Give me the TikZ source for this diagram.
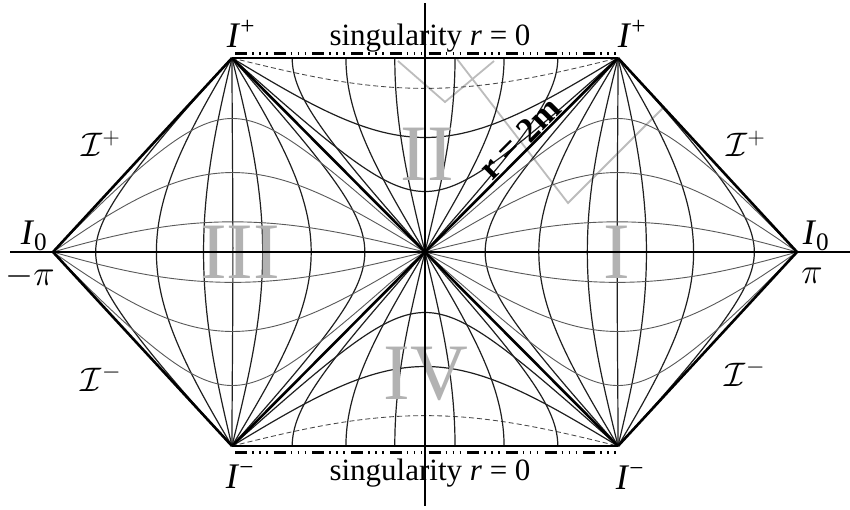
\RequirePackage{fix-cm}
\documentclass[tikz,border=0pt]{standalone}
\usepackage{fontspec}
\setmainfont{Liberation Serif}
\definecolor{numgray}{RGB}{178,178,178}
\definecolor{zgray}{RGB}{188,188,188}
\begin{document}
\begin{tikzpicture}[x=1pt,y=-1pt,
 declare function={
  fx(\sA,\sB)=425+193*(\sA+\sB)-14*(\sA*\sB)^2;
  gx(\sA,\sB)=425-193*(\sA+\sB)+14*(\sA*\sB)^2;
  fy(\sA,\sB)=252+194*(\sA-\sB);
  hx(\sU,\sV)=425+2.1444*(\sV-\sU);
  hy(\sU,\sV)=252-2.1556*(\sU+\sV);
  ky(\sU,\sV)=252+2.1556*(\sU+\sV);
 },
 rline/.style={line width=1.2pt,black!88},
 tline/.style={line width=0.9pt,black!65},
 dline/.style={line width=0.85pt,black!72,dash pattern=on 5pt off 3pt},
 heavy/.style={line width=2.6pt,black},
 axisline/.style={line width=2.2pt,black},
 zig/.style={line width=1.8pt,zgray},
 singmark/.style={line width=3pt,black,dash pattern=on 12pt off 5pt on 1.5pt off 5.5pt on 1.5pt off 5.5pt on 1.5pt off 6.2pt},
 num/.style={text=numgray,font=\fontsize{80}{86}\selectfont,inner sep=0pt},
 lab/.style={font=\fontsize{36}{40}\selectfont,inner sep=0pt},
 scri/.style={font=\fontsize{34}{40}\selectfont,inner sep=0pt},
 sing/.style={font=\fontsize{31}{36}\selectfont,inner sep=0pt},
 rlab/.style={font=\fontsize{35}{40}\selectfont\bfseries,inner sep=1.5pt},
]
\useasboundingbox (0,0) rectangle (850,509);
\fill[white] (0,0) rectangle (850,509);

% key points
\coordinate (C) at (425,252);
\coordinate (TL) at (232,58);
\coordinate (TR) at (618,58);
\coordinate (BL) at (232,446);
\coordinate (BR) at (618,446);
\coordinate (IL) at (53,252);
\coordinate (IR) at (797,252);
\coordinate (axT) at (425,3);
\coordinate (axB) at (425,506);
\coordinate (axL) at (10,252);
\coordinate (axR) at (850,252);
\coordinate (smT1) at (235,53);
\coordinate (smT2) at (618,53);
\coordinate (smB1) at (235,452);
\coordinate (smB2) at (618,452);
\coordinate (z1) at (398,61);
\coordinate (z2) at (445,102);
\coordinate (z3) at (494,61);
\coordinate (z4) at (457,59);
\coordinate (z5) at (568,203);
\coordinate (z6) at (663,108);

% gray zigzag
\draw[zig] (z1) -- (z2) -- (z3);
\draw[zig] (z4) -- (z5) -- (z6);

% regions I and III: constant r
\foreach \kk in {0.25,0.5,0.78,1,1.28,2,5}{
  \draw[rline] (BR) -- plot[domain=0.05:89.95,samples=140,variable=\p]
   ({fx(atan(\kk/tan(\p))/90,atan(\kk*tan(\p))/90)},{fy(atan(\kk/tan(\p))/90,atan(\kk*tan(\p))/90)}) -- (TR);
  \draw[rline] (BL) -- plot[domain=0.05:89.95,samples=140,variable=\p]
   ({gx(atan(\kk/tan(\p))/90,atan(\kk*tan(\p))/90)},{fy(atan(\kk/tan(\p))/90,atan(\kk*tan(\p))/90)}) -- (TL);
}
% regions I and III: constant t
\foreach \sv in {4,2,1.28,0.25,0.5,0.78}{
  \draw[tline] plot[domain=0:89.9,samples=160,variable=\q]
   ({fx(atan(tan(\q)/\sv)/90,atan(tan(\q)*\sv)/90)},{fy(atan(tan(\q)/\sv)/90,atan(tan(\q)*\sv)/90)}) -- (IR);
  \draw[tline] plot[domain=0:89.9,samples=160,variable=\q]
   ({gx(atan(tan(\q)/\sv)/90,atan(tan(\q)*\sv)/90)},{fy(atan(tan(\q)/\sv)/90,atan(tan(\q)*\sv)/90)}) -- (IL);
}
% regions II and IV: constant r
\foreach \cv in {0.25,0.5}{
  \draw[rline] (TL) -- plot[domain=0.05:89.95,samples=140,variable=\p]
   ({hx(atan(\cv/tan(\p)),atan(\cv*tan(\p)))},{hy(atan(\cv/tan(\p)),atan(\cv*tan(\p)))}) -- (TR);
  \draw[rline] (BL) -- plot[domain=0.05:89.95,samples=140,variable=\p]
   ({hx(atan(\cv/tan(\p)),atan(\cv*tan(\p)))},{ky(atan(\cv/tan(\p)),atan(\cv*tan(\p)))}) -- (BR);
}
\draw[dline] (TL) -- plot[domain=0.05:89.95,samples=140,variable=\p]
   ({hx(atan(0.78/tan(\p)),atan(0.78*tan(\p)))},{hy(atan(0.78/tan(\p)),atan(0.78*tan(\p)))}) -- (TR);
\draw[dline] (BL) -- plot[domain=0.05:89.95,samples=140,variable=\p]
   ({hx(atan(0.78/tan(\p)),atan(0.78*tan(\p)))},{ky(atan(0.78/tan(\p)),atan(0.78*tan(\p)))}) -- (BR);
% regions II and IV: constant t
\foreach \sv in {4,2,1.28,0.25,0.5,0.78}{
  \draw[rline] plot[domain=0:1,samples=60,variable=\w]
   ({hx(atan(\w/\sv),atan(\w*\sv))},{hy(atan(\w/\sv),atan(\w*\sv))});
  \draw[rline] plot[domain=0:1,samples=60,variable=\w]
   ({hx(atan(\w/\sv),atan(\w*\sv))},{ky(atan(\w/\sv),atan(\w*\sv))});
}

% region numerals
\node[num] (nII) at (427,154) {II};
\node[num] (nIII) at (240,252) {III};
\node[num] (nI) at (617,252) {I};
\node[num] (nIV) at (426,374) {IV};

% axes
\draw[axisline] (axT) -- (axB);
\draw[axisline] (axL) -- (axR);

% boundaries and horizons
\draw[heavy] (TL) -- (IL) -- (BL);
\draw[heavy] (TR) -- (IR) -- (BR);
\draw[heavy] (TL) -- (BR);
\draw[heavy] (TR) -- (BL);
\draw[heavy] (TL) -- (TR);
\draw[heavy] (BL) -- (BR);
\draw[singmark] (smT1) -- (smT2);
\draw[singmark] (smB1) -- (smB2);

% labels
\node[rlab,rotate=45,anchor=south] (rm) at (529,147.5) {r = 2m};
\node[lab] (Ipl) at (241,34) {\textit{I}\textsuperscript{+}};
\node[lab] (Ipr) at (632,34) {\textit{I}\textsuperscript{+}};
\node[lab] (Iml) at (240,477) {\textit{I}\textsuperscript{−}};
\node[lab] (Imr) at (630,478) {\textit{I}\textsuperscript{−}};
\node[sing,anchor=base] (st) at (430,45) {singularity \textit{r} = 0};
\node[sing,anchor=base] (sb) at (430,480) {singularity \textit{r} = 0};
\node[scri] (scr1) at (101,144) {$\mathcal{I}^+$};
\node[scri] (scr2) at (746,144) {$\mathcal{I}^+$};
\node[scri] (scr3) at (101,378) {$\mathcal{I}^-$};
\node[scri] (scr4) at (745,373) {$\mathcal{I}^-$};
\node[lab] (i0l) at (34,236) {\textit{I}\textsubscript{0}};
\node[lab] (i0r) at (816,236) {\textit{I}\textsubscript{0}};
\node[lab] (pil) at (30,276) {$-\pi$};
\node[lab] (pir) at (812,276) {$\pi$};
\end{tikzpicture}
\end{document}
